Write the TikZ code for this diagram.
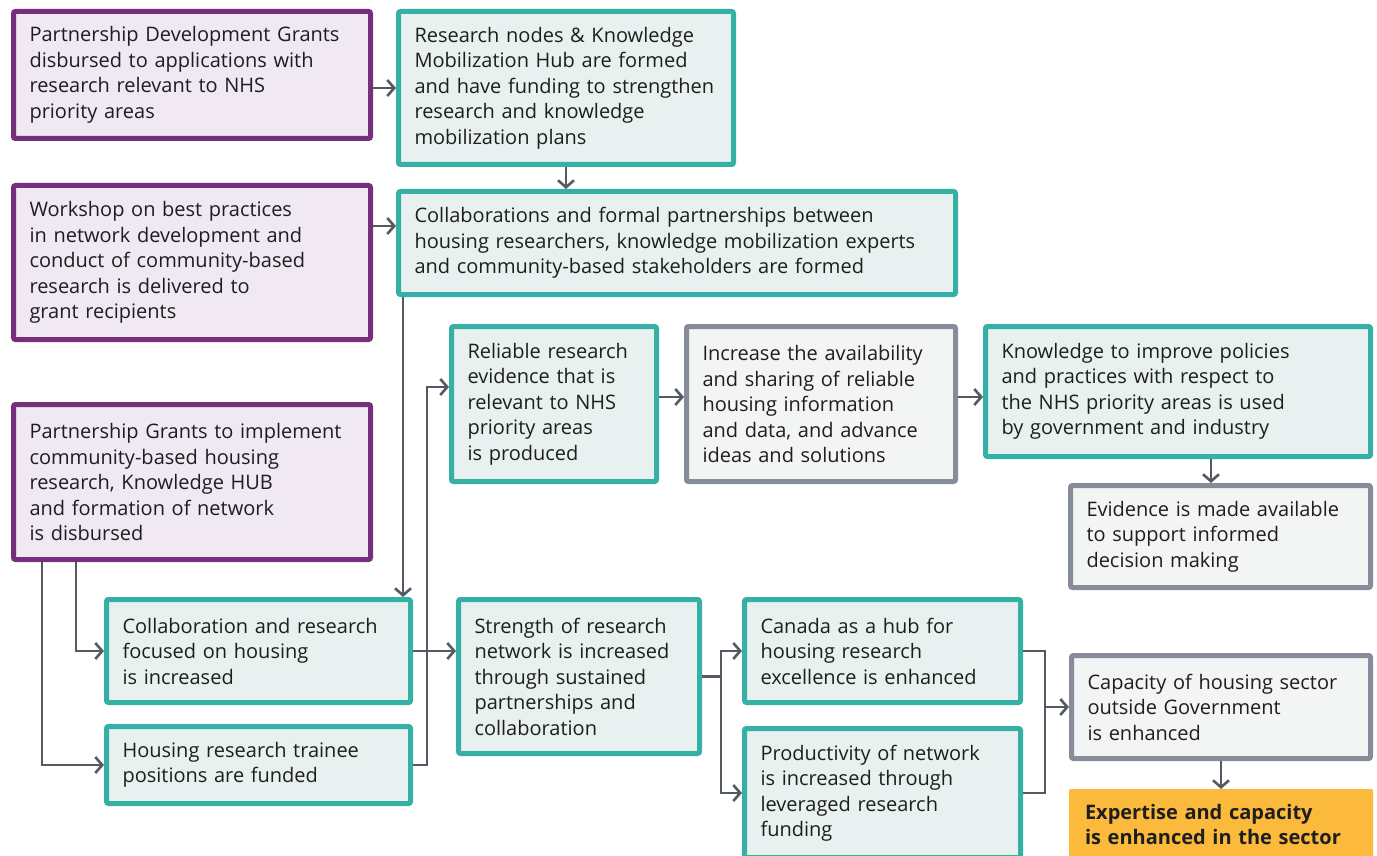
\documentclass[tikz,border=0pt]{standalone}
\usepackage{fontspec}
\setmainfont{Open Sans}
\usetikzlibrary{arrows.meta}

\definecolor{plumline}{HTML}{74307A}
\definecolor{plumfill}{HTML}{F0E8F3}
\definecolor{tealline}{HTML}{35B0A5}
\definecolor{tealfill}{HTML}{E8F1F0}
\definecolor{greyline}{HTML}{868C99}
\definecolor{greyfill}{HTML}{F3F4F4}
\definecolor{goalfill}{HTML}{FBBA3B}
\definecolor{arrowc}{HTML}{545A63}
\definecolor{ink}{HTML}{1E1E1E}

\tikzset{
  box/.style={rectangle, line width=5pt, rounded corners=2pt, outer sep=2.5pt,
    inner xsep=16pt, inner ysep=0pt, anchor=north west, align=left,
    text=ink, font=\fontsize{20}{25.5}\selectfont},
  boxsize/.code 2 args={\pgfmathsetmacro\bw{#1-5}\pgfmathsetmacro\bh{#2-5}%
    \pgfmathsetmacro\tw{#1-37}%
    \pgfkeysalso{minimum width=\bw pt, minimum height=\bh pt, text width=\tw pt}},
  input/.style={box, draw=plumline, fill=plumfill},
  output/.style={box, draw=tealline, fill=tealfill},
  outcome/.style={box, draw=greyline, fill=greyfill},
  goal/.style={rectangle, fill=goalfill, rounded corners=2pt, outer sep=0pt,
    inner xsep=16pt, inner ysep=0pt, anchor=north west, align=left,
    text=ink, font=\fontsize{20}{25.5}\selectfont\bfseries},
  line/.style={draw=arrowc, line width=2.6pt},
  arr/.style={line, -{Straight Barb[length=7pt, width=16pt]}}
}

\begin{document}
\begin{tikzpicture}[x=1pt, y=-1pt]
  \clip (0,0) rectangle (1377,856);
  \useasboundingbox (0,0) rectangle (1377,856);

  % activities
  \node[input, boxsize={362}{132}] (p1) at (11,9)
    {Partnership Development Grants\\disbursed to applications with\\research relevant to NHS\\priority areas};
  \node[input, boxsize={362}{159}] (p2) at (11,183)
    {Workshop on best practices\\in network development and\\conduct of community-based\\research is delivered to\\grant recipients};
  \node[input, boxsize={362}{160}] (p3) at (11,402)
    {Partnership Grants to implement\\community-based housing\\research, Knowledge HUB\\and formation of network\\is disbursed};

  % outputs
  \node[output, boxsize={340}{158}] (t1) at (396,9)
    {Research nodes \& Knowledge\\Mobilization Hub are formed\\and have funding to strengthen\\research and knowledge\\mobilization plans};
  \node[output, boxsize={562}{108}] (t2) at (396,189)
    {Collaborations and formal partnerships between\\housing researchers, knowledge mobilization experts\\and community-based stakeholders are formed};
  \node[output, boxsize={210}{160}] (t3) at (449,324)
    {Reliable research\\evidence that is\\relevant to NHS\\priority areas\\is produced};
  \node[output, boxsize={390}{135}] (t4) at (983,324)
    {Knowledge to improve policies\\and practices with respect to\\the NHS priority areas is used\\by government and industry};
  \node[output, boxsize={309}{108}] (t5) at (104,597)
    {Collaboration and research\\focused on housing\\is increased};
  \node[output, boxsize={309}{82}] (t6) at (104,724)
    {Housing research trainee\\positions are funded};
  \node[output, boxsize={246}{159}] (t7) at (456,597)
    {Strength of research\\network is increased\\through sustained\\partnerships and\\collaboration};
  \node[output, boxsize={281}{108}] (t8) at (742,597)
    {Canada as a hub for\\housing research\\excellence is enhanced};
  \node[output, boxsize={281}{134}] (t9) at (742,726)
    {Productivity of network\\is increased through\\leveraged research\\funding};

  % outcomes
  \node[outcome, boxsize={274}{160}] (g1) at (684,324)
    {Increase the availability\\and sharing of reliable\\housing information\\and data, and advance\\ideas and solutions};
  \node[outcome, boxsize={305}{107}] (g2) at (1068,483)
    {Evidence is made available\\to support informed\\decision making};
  \node[outcome, boxsize={304}{108}] (g3) at (1069,653)
    {Capacity of housing sector\\outside Government\\is enhanced};
  \node[goal, minimum width=304pt, minimum height=71pt, text width=272pt] (o1) at (1069,789)
    {Expertise and capacity\\is enhanced in the sector};

  % connectors
  \draw[arr] (p1.east|-t1.west) -- (t1.west);
  \draw[arr] (t1.south) -- (t1.south|-t2.north);
  \coordinate (t2in) at ([yshift=17pt]t2.west);
  \draw[arr] (p2.east|-t2in) -- (t2in);
  \coordinate (drop) at ([xshift=7pt]t2.south west);
  \draw[arr] (drop) -- (drop|-t5.north);
  \draw[arr] ([xshift=65pt]p3.south west) |- (t5.west);
  \draw[arr] ([xshift=31pt]p3.south west) |- (t6.west);
  \draw[arr] (t5.east) -- (t5.east-|t7.west);
  \coordinate (t3in) at ([yshift=17pt]t3.west);
  \draw[arr] (t6.east) -- ++(14,0) |- (t3in);
  \draw[arr] (t7.east) -- ++(19,0) |- (t8.west);
  \draw[arr] (t7.east) ++(19,0) |- (t9.west);
  \coordinate (join) at ([xshift=22pt]t8.east);
  \draw[line] (t8.east) -- (join) |- (t9.east);
  \draw[arr] (join|-g3.west) -- (g3.west);
  \coordinate (g1in) at ([yshift=7pt]g1.west);
  \draw[arr] (t3.east|-g1in) -- (g1in);
  \draw[arr] (g1.east|-g1in) -- (g1in-|t4.west);
  \coordinate (t4out) at ([xshift=33pt]t4.south);
  \draw[arr] (t4out) -- (t4out|-g2.north);
  \draw[arr] (g3.south) -- (o1.north);
\end{tikzpicture}
\end{document}
